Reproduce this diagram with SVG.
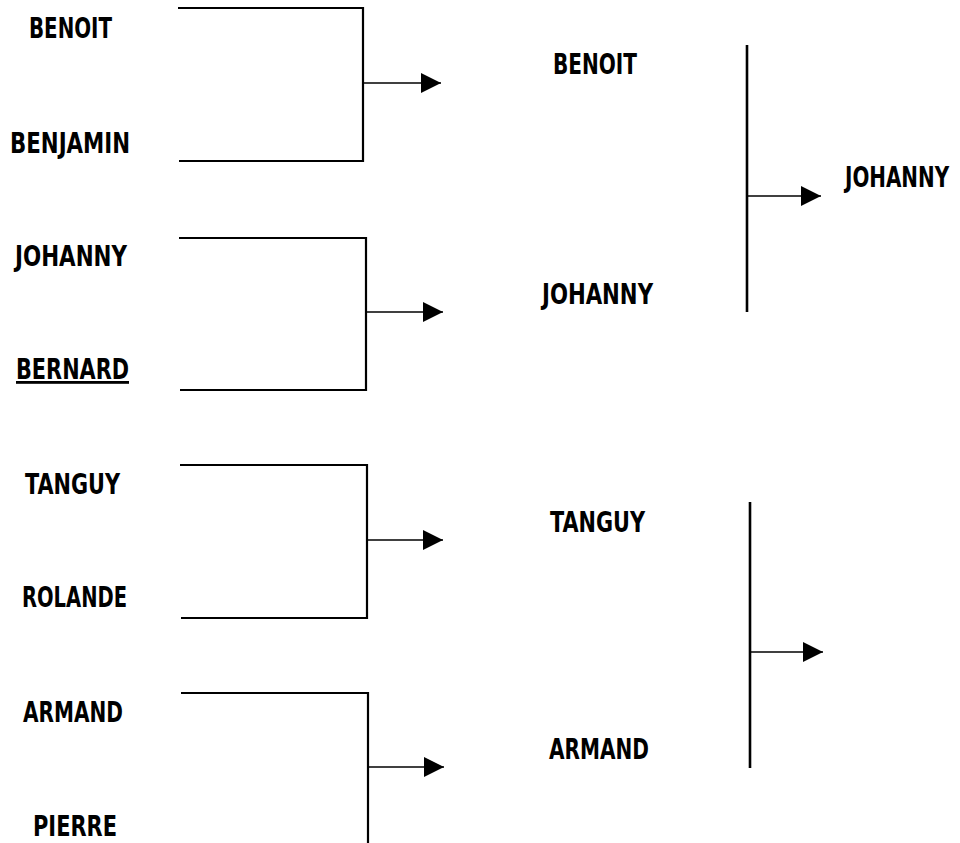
<svg xmlns="http://www.w3.org/2000/svg" width="960" height="843" viewBox="0 0 960 843">
<style>
.lbl{font-family:"DejaVu Sans Condensed","DejaVu Sans","Liberation Sans",sans-serif;font-weight:bold;font-size:28px;fill:#000}
.br{fill:none;stroke:#000;stroke-width:2.2}
.vl{fill:none;stroke:#000;stroke-width:2.6}
.ar{fill:none;stroke:#000;stroke-width:1.5;marker-end:url(#ah)}
</style>
<defs>
<marker id="ah" markerUnits="userSpaceOnUse" markerWidth="21" markerHeight="21" refX="20" refY="10" orient="auto" viewBox="0 0 21 21">
<path d="M0,0 L20,10 L0,20 z" fill="#000"/>
</marker>
</defs>
<rect width="960" height="843" fill="#fff"/>
<g id="n-benoit-1"><text class="lbl" x="29" y="38" textLength="83" lengthAdjust="spacingAndGlyphs">BENOIT</text></g>
<g id="n-benjamin"><text class="lbl" x="10" y="153" textLength="120" lengthAdjust="spacingAndGlyphs">BENJAMIN</text></g>
<g id="n-johanny-1"><text class="lbl" x="15" y="266" textLength="112" lengthAdjust="spacingAndGlyphs">JOHANNY</text></g>
<g id="n-bernard"><text class="lbl" x="16" y="379" textLength="113" lengthAdjust="spacingAndGlyphs" text-decoration="underline">BERNARD</text></g>
<g id="n-tanguy-1"><text class="lbl" x="25" y="494" textLength="95" lengthAdjust="spacingAndGlyphs">TANGUY</text></g>
<g id="n-rolande"><text class="lbl" x="22" y="607" textLength="105" lengthAdjust="spacingAndGlyphs">ROLANDE</text></g>
<g id="n-armand-1"><text class="lbl" x="23" y="722" textLength="100" lengthAdjust="spacingAndGlyphs">ARMAND</text></g>
<g id="n-pierre"><text class="lbl" x="33" y="836" textLength="84" lengthAdjust="spacingAndGlyphs">PIERRE</text></g>
<g id="n-benoit-2"><text class="lbl" x="553" y="74" textLength="84" lengthAdjust="spacingAndGlyphs">BENOIT</text></g>
<g id="n-johanny-2"><text class="lbl" x="542" y="304" textLength="111" lengthAdjust="spacingAndGlyphs">JOHANNY</text></g>
<g id="n-tanguy-2"><text class="lbl" x="550" y="532" textLength="95" lengthAdjust="spacingAndGlyphs">TANGUY</text></g>
<g id="n-armand-2"><text class="lbl" x="549" y="759" textLength="100" lengthAdjust="spacingAndGlyphs">ARMAND</text></g>
<g id="n-johanny-3"><text class="lbl" transform="translate(845,187) scale(0.79,1)" x="0" y="0">JOHANNY</text></g>
<g id="connectors">
<polyline class="br" points="178,8 363,8 363,161 179,161"/>
<polyline class="br" points="179,238 366,238 366,390 180,390"/>
<polyline class="br" points="180,465 367,465 367,618 181,618"/>
<polyline class="br" points="181,693 368,693 368,843"/>
<line class="ar" x1="364" y1="83" x2="441" y2="83"/>
<line class="ar" x1="367" y1="312" x2="443" y2="312"/>
<line class="ar" x1="368" y1="540" x2="443" y2="540"/>
<line class="ar" x1="369" y1="767" x2="444" y2="767"/>
<line class="vl" x1="747" y1="45" x2="747" y2="312"/>
<line class="vl" x1="750" y1="502" x2="750" y2="768"/>
<line class="ar" x1="748" y1="196" x2="821" y2="196"/>
<line class="ar" x1="751" y1="652" x2="823" y2="652"/>
</g>
</svg>
